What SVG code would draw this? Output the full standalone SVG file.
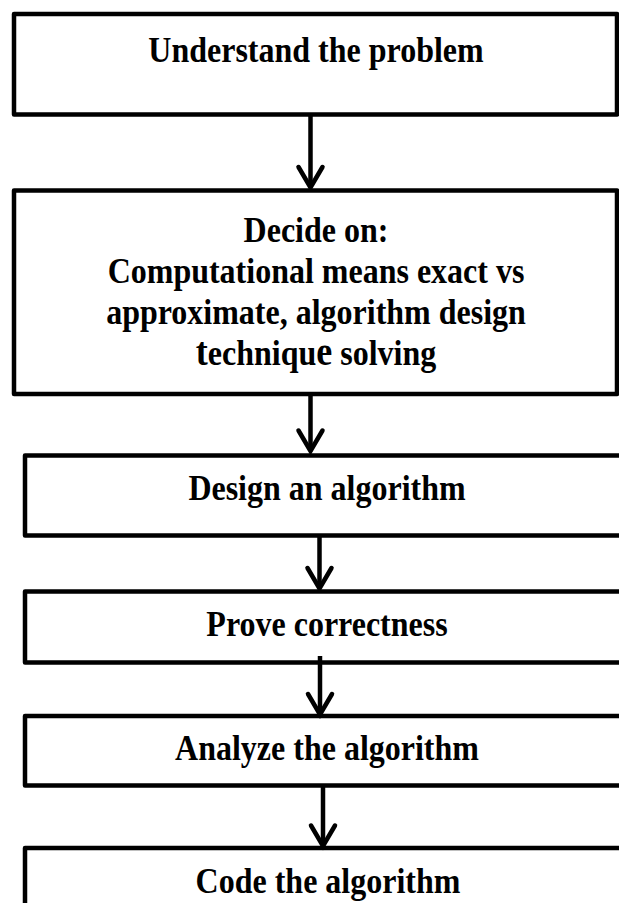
<svg xmlns="http://www.w3.org/2000/svg" width="619" height="903" viewBox="0 0 619 903">
  <style>
    .box { fill: #ffffff; stroke: #000000; stroke-width: 4.5; stroke-linejoin: round; }
    .label { font-family: "Liberation Serif", "Times New Roman", serif; font-weight: bold; font-size: 32px; fill: #000000; text-anchor: middle; }
    .big { font-size: 36px; }
    .wire { fill: none; stroke: #000000; stroke-width: 4.5; }
    .head { fill: none; stroke: #000000; stroke-width: 4.5; stroke-linejoin: miter; stroke-linecap: round; }
  </style>
  <rect width="619" height="903" fill="#ffffff"/>

  <g id="understand">
    <rect class="box" x="14" y="14" width="603" height="100.5"/>
    <text class="label" transform="translate(316 62) scale(1 1.1)">Understand the problem</text>
  </g>

  <g id="decide">
    <rect class="box" x="14" y="190.5" width="603" height="203.5"/>
    <text class="label" transform="translate(316 242) scale(1 1.1)">Decide on:</text>
    <text class="label" transform="translate(316 283) scale(1 1.1)">Computational means exact vs</text>
    <text class="label" transform="translate(316 324) scale(1 1.1)">approximate, algorithm design</text>
    <text class="label" transform="translate(316 365) scale(1 1.1)"><tspan class="big">t</tspan>echniqu<tspan class="big">e</tspan> solving</text>
  </g>

  <g id="design">
    <rect class="box" x="25" y="455.5" width="604" height="80"/>
    <text class="label" transform="translate(327 500) scale(1 1.1)">Design an algorithm</text>
  </g>

  <g id="prove">
    <rect class="box" x="25" y="591.5" width="604" height="71"/>
    <text class="label" transform="translate(327 636) scale(1 1.1)">Prove correctness</text>
  </g>

  <g id="analyze">
    <rect class="box" x="25" y="716" width="604" height="69.5"/>
    <text class="label" transform="translate(327 760) scale(1 1.1)">Analyze the algorithm</text>
  </g>

  <g id="code">
    <rect class="box" x="25" y="848" width="604" height="80"/>
    <text class="label" transform="translate(328 893) scale(1 1.1)">Code the algorithm</text>
  </g>

  <g id="connectors">
    <path class="wire" d="M310.5 116 V187"/>
    <path class="head" d="M298.5 167 L310.5 187.5 L322.5 167"/>

    <path class="wire" d="M310.5 396 V450"/>
    <path class="head" d="M298.5 430.5 L310.5 451 L322.5 430.5"/>

    <path class="wire" d="M319.5 537 V588"/>
    <path class="head" d="M307.5 568 L319.5 588.5 L331.5 568"/>

    <path class="wire" d="M320 656 V714"/>
    <path class="head" d="M308 694 L320 714.5 L332 694"/>

    <path class="wire" d="M323 787 V846"/>
    <path class="head" d="M311 825.5 L323 846 L335 825.5"/>
  </g>
</svg>
